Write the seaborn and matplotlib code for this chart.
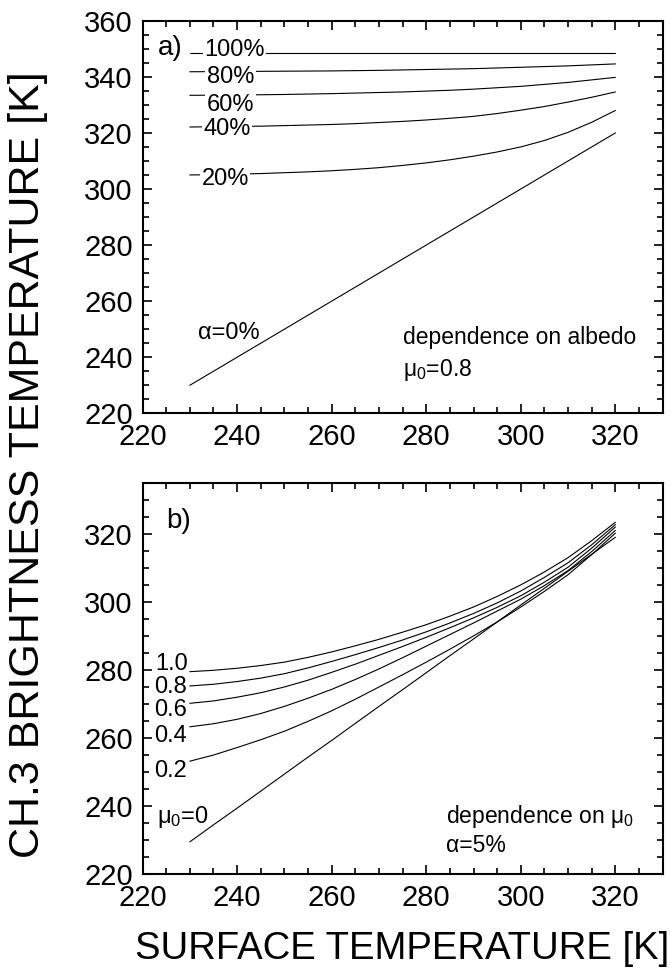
import numpy as np
import pandas as pd
import matplotlib
matplotlib.use("Agg")
import matplotlib.pyplot as plt
import seaborn as sns
from matplotlib.ticker import MultipleLocator

# ---------------- data ----------------
surface_t = [230, 235, 240, 245, 250, 255, 260, 265, 270, 275,
             280, 285, 290, 295, 300, 305, 310, 315, 320]

# panel a: dependence on albedo (mu0 = 0.8)
albedo_labels = ["α=0%", "20%", "40%", "60%", "80%", "100%"]
alb_0 = [230, 235, 240, 245, 250, 255, 260, 265, 270, 275,
         280, 285, 290, 295, 300, 305, 310, 315, 320]
alb_20 = [305.0, 305.1, 305.3, 305.5, 305.8, 306.1, 306.5, 307.0, 307.6, 308.4,
          309.3, 310.4, 311.7, 313.2, 315.0, 317.3, 320.2, 323.8, 328.0]
alb_40 = [322.1, 322.2, 322.3, 322.4, 322.6, 322.8, 323.0, 323.3, 323.7, 324.1,
          324.6, 325.2, 325.9, 326.9, 328.1, 329.4, 331.0, 332.7, 334.6]
alb_60 = [333.4, 333.45, 333.5, 333.6, 333.7, 333.85, 334.0, 334.2, 334.4, 334.6,
          334.9, 335.2, 335.6, 336.1, 336.6, 337.3, 338.0, 338.9, 339.8]
alb_80 = [341.8, 341.85, 341.9, 341.95, 342.0, 342.05, 342.1, 342.2, 342.3, 342.45,
          342.6, 342.75, 342.9, 343.15, 343.4, 343.65, 343.9, 344.25, 344.6]
alb_100 = [348.6, 348.6, 348.6, 348.6, 348.6, 348.6, 348.6, 348.6, 348.6, 348.6,
           348.6, 348.6, 348.6, 348.6, 348.6, 348.6, 348.6, 348.6, 348.6]

# panel b: dependence on mu0 (albedo = 5%)
mu_labels = ["0", "0.2", "0.4", "0.6", "0.8", "1.0"]
mu_00 = [229.5, 234.5, 239.4, 244.4, 249.4, 254.4, 259.3, 264.3, 269.3, 274.2,
         279.2, 284.2, 289.1, 294.1, 299.1, 304.0, 309.0, 314.0, 319.0]
mu_02 = [253.2, 255.0, 257.2, 259.5, 262.0, 264.9, 268.0, 271.4, 275.0, 278.6,
         282.3, 286.1, 290.0, 294.1, 298.5, 303.1, 308.0, 313.9, 320.2]
mu_04 = [263.3, 264.2, 265.5, 267.2, 269.3, 271.7, 274.3, 277.2, 280.3, 283.6,
         287.0, 290.4, 293.8, 297.3, 300.8, 304.8, 309.2, 314.8, 321.0]
mu_06 = [270.2, 270.9, 272.0, 273.3, 275.0, 277.0, 279.3, 281.7, 284.3, 286.9,
         289.6, 292.4, 295.3, 298.4, 301.8, 305.8, 310.2, 315.8, 322.0]
mu_08 = [275.3, 275.8, 276.6, 277.6, 278.9, 280.6, 282.5, 284.5, 286.6, 288.8,
         291.2, 293.8, 296.6, 299.7, 303.2, 307.2, 311.5, 316.8, 322.7]
mu_10 = [279.5, 279.9, 280.5, 281.3, 282.3, 283.7, 285.3, 287.1, 289.0, 291.1,
         293.3, 295.8, 298.5, 301.6, 305.0, 308.8, 313.0, 318.0, 323.4]

# ---------------- style ----------------
sns.set_theme(style="ticks")
plt.rcParams["font.family"] = ["Liberation Sans", "DejaVu Sans"]
plt.rcParams["mathtext.fontset"] = "custom"
plt.rcParams["mathtext.rm"] = "Liberation Sans"
plt.rcParams["mathtext.it"] = "Liberation Sans"
plt.rcParams["text.color"] = "black"
plt.rcParams["axes.labelcolor"] = "black"
plt.rcParams["xtick.color"] = "black"
plt.rcParams["ytick.color"] = "black"
plt.rcParams["axes.linewidth"] = 1.5

fig = plt.figure(figsize=(6.70, 9.68), dpi=100)
ax_a = fig.add_axes([0.2127, 0.5730, 0.7764, 0.4056])
ax_b = fig.add_axes([0.2127, 0.0969, 0.7764, 0.4044])

n = len(surface_t)
df_a = pd.DataFrame({
    "x": surface_t * 6,
    "y": alb_0 + alb_20 + alb_40 + alb_60 + alb_80 + alb_100,
    "s": sum([[l] * n for l in albedo_labels], []),
})
df_b = pd.DataFrame({
    "x": surface_t * 6,
    "y": mu_00 + mu_02 + mu_04 + mu_06 + mu_08 + mu_10,
    "s": sum([[l] * n for l in mu_labels], []),
})

pal_a = {l: "black" for l in albedo_labels}
pal_b = {l: "black" for l in mu_labels}
sns.lineplot(data=df_a, x="x", y="y", hue="s", palette=pal_a, ax=ax_a,
             legend=False, linewidth=0.8, estimator=None, sort=False)
sns.lineplot(data=df_b, x="x", y="y", hue="s", palette=pal_b, ax=ax_b,
             legend=False, linewidth=0.8, estimator=None, sort=False)

tick_fs = 21
for ax, ylim in ((ax_a, (220, 360)), (ax_b, (220, 335))):
    ax.set_xlim(220, 330)
    ax.set_ylim(*ylim)
    ax.xaxis.set_major_locator(MultipleLocator(20))
    ax.xaxis.set_minor_locator(MultipleLocator(5))
    ax.yaxis.set_major_locator(MultipleLocator(20))
    ax.yaxis.set_minor_locator(MultipleLocator(5))
    ax.tick_params(which="both", direction="in", top=True, right=True,
                   width=1.2, color="black")
    ax.tick_params(which="major", length=6.5)
    ax.tick_params(which="minor", length=4)
    ax.tick_params(axis="x", which="major", labelsize=tick_fs, pad=7)
    ax.tick_params(axis="y", which="major", labelsize=tick_fs, pad=7)
    ax.set_xlabel("")
    ax.set_ylabel("")
    for sp in ax.spines.values():
        sp.set_visible(True)
        sp.set_color("black")
        sp.set_linewidth(1.5)

# ---------------- annotations panel a ----------------
lab_fs = 17
box = dict(facecolor="white", edgecolor="none", pad=1.0)
ax_a.text(225.8, 350.4, "a)", fontsize=20, ha="center", va="center")
ax_a.text(233.0, 349.5, "100%", fontsize=lab_fs, ha="left", va="center", bbox=box)
ax_a.text(233.6, 340.0, "80%", fontsize=lab_fs, ha="left", va="center", bbox=box)
ax_a.text(233.6, 329.9, "60%", fontsize=lab_fs, ha="left", va="center", bbox=box)
ax_a.text(232.9, 321.4, "40%", fontsize=lab_fs, ha="left", va="center", bbox=box)
ax_a.text(232.5, 303.5, "20%", fontsize=lab_fs, ha="left", va="center", bbox=box)
ax_a.text(238.2, 248.8, "α=0%", fontsize=lab_fs, ha="center", va="center")
ax_a.text(275.0, 247.1, "dependence on albedo", fontsize=16.5, ha="left", va="center")
ax_a.text(275.0, 235.4, r"$\mathregular{\mu_0}$=0.8", fontsize=16.5, ha="left", va="center")

# ---------------- annotations panel b ----------------
ax_b.text(227.6, 323.8, "b)", fontsize=20, ha="center", va="center")
ax_b.text(229.6, 281.7, "1.0", fontsize=lab_fs, ha="right", va="center")
ax_b.text(229.4, 274.9, "0.8", fontsize=lab_fs, ha="right", va="center")
ax_b.text(229.4, 268.2, "0.6", fontsize=lab_fs, ha="right", va="center")
ax_b.text(229.4, 260.7, "0.4", fontsize=lab_fs, ha="right", va="center")
ax_b.text(229.4, 250.4, "0.2", fontsize=lab_fs, ha="right", va="center")
ax_b.text(223.1, 236.7, r"$\mathregular{\mu_0}$=0", fontsize=lab_fs, ha="left", va="center")
ax_b.text(284.2, 236.9, r"dependence on $\mathregular{\mu_0}$", fontsize=16.5, ha="left", va="center")
ax_b.text(284.2, 228.4, "α=5%", fontsize=16.5, ha="left", va="center")

# ---------------- axis labels ----------------
ax_b.set_xlabel("SURFACE TEMPERATURE [K]", fontsize=27.5, labelpad=14)
fig.text(0.042, 0.52, "CH.3 BRIGHTNESS TEMPERATURE [K]", fontsize=31,
         rotation=90, ha="center", va="center")

fig.savefig("out.png", dpi=100)
